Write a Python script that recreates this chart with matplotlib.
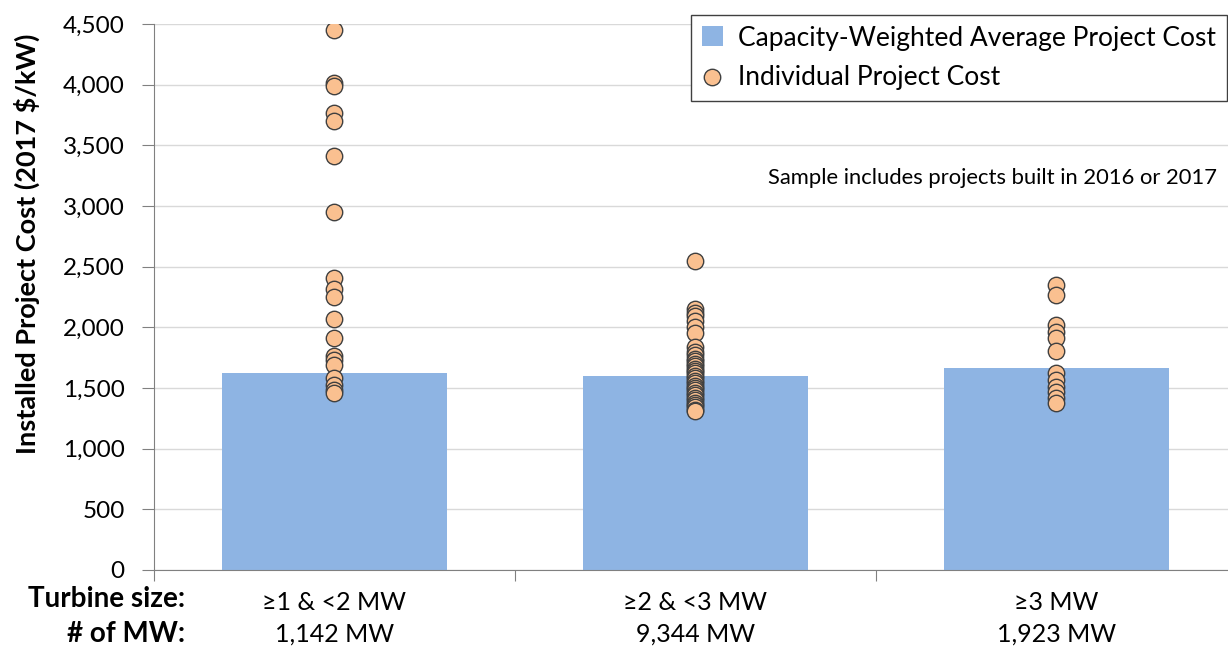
import numpy as np
import matplotlib.pyplot as plt
from matplotlib.ticker import FuncFormatter

plt.rcParams['font.family'] = ['Lato', 'DejaVu Sans']

categories = ['≥1 & <2 MW', '≥2 & <3 MW', '≥3 MW']
mw_labels = ['1,142 MW', '9,344 MW', '1,923 MW']
avg_cost = [1622, 1600, 1665]

cost_small = [4450, 4010, 3985, 3765, 3700, 3410, 2950, 2405, 2320, 2250, 2065,
              1915, 1760, 1730, 1690, 1580, 1525, 1485, 1460]
cost_mid = [2550, 2150, 2120, 2090, 2050, 2000, 1950, 1840, 1800, 1770, 1740,
            1720, 1700, 1680, 1660, 1640, 1620, 1600, 1580, 1560, 1540, 1520,
            1500, 1480, 1460, 1440, 1420, 1400, 1380, 1360, 1340, 1320, 1310]
cost_large = [2350, 2267, 2020, 1965, 1910, 1805, 1620, 1565, 1510, 1470, 1415, 1375]
project_costs = [cost_small, cost_mid, cost_large]

fig = plt.figure(figsize=(12.28, 6.48), dpi=100)
ax = fig.add_axes([154/1228, 78/648, 1083/1228, 546/648])

x = np.arange(len(categories))
bars = ax.bar(x, avg_cost, width=0.626, color='#8EB4E3', zorder=2)
for i, vals in enumerate(project_costs):
    sc = ax.scatter(np.full(len(vals), x[i]), vals, s=140, color='#FAC090',
                    edgecolor='#404040', linewidth=1, zorder=3)

ax.set_xlim(-0.5, 2.5)
ax.set_ylim(0, 4500)
ax.set_yticks(np.arange(0, 4501, 500))
ax.yaxis.set_major_formatter(FuncFormatter(lambda v, p: f'{int(v):,}'))
ax.tick_params(axis='y', labelsize=17.5, length=9, color='#808080', pad=12)
ax.grid(axis='y', color='#D9D9D9', lw=1, zorder=0)
ax.set_axisbelow(True)

# category separators as ticks, labels as minor ticks
ax.set_xticks([-0.5, 0.5, 1.5])
ax.set_xticklabels([])
ax.tick_params(axis='x', which='major', length=8, color='#808080')
ax.set_xticks(x, minor=True)
ax.set_xticklabels(categories, minor=True)
ax.tick_params(axis='x', which='minor', length=0, labelsize=18, pad=15)

for s in ['top', 'right']:
    ax.spines[s].set_visible(False)
ax.spines['left'].set_color('#808080')
ax.spines['bottom'].set_color('#808080')

for i, lab in enumerate(mw_labels):
    fig.text((154 + 361 * (i + 0.5)) / 1228, 1 - 634/648, lab,
             ha='center', va='center', fontsize=18)
fig.text(185/1228, 1 - 599/648, 'Turbine size:', ha='right', va='center',
         fontsize=20, fontweight='bold')
fig.text(185/1228, 1 - 634/648, '# of MW:', ha='right', va='center',
         fontsize=20, fontweight='bold')

fig.text(27/1228, 1 - 244/648, 'Installed Project Cost (2017 $/kW)',
         rotation=90, ha='center', va='center', fontsize=19.5, fontweight='bold')

fig.text(1217/1228, 1 - 178/648, 'Sample includes projects built in 2016 or 2017',
         ha='right', va='center', fontsize=15.8)

leg = ax.legend([bars, sc], ['Capacity-Weighted Average Project Cost',
                             'Individual Project Cost'],
                loc='upper right', bbox_to_anchor=(1227/1228, 1 - 15/648),
                bbox_transform=fig.transFigure, fontsize=19, fancybox=False,
                edgecolor='#404040', framealpha=1, handletextpad=0.6,
                borderpad=0.4, labelspacing=0.55, handlelength=0.8,
                handleheight=0.8, borderaxespad=0)
leg.get_frame().set_linewidth(1)

fig.savefig('out.png', dpi=100)
